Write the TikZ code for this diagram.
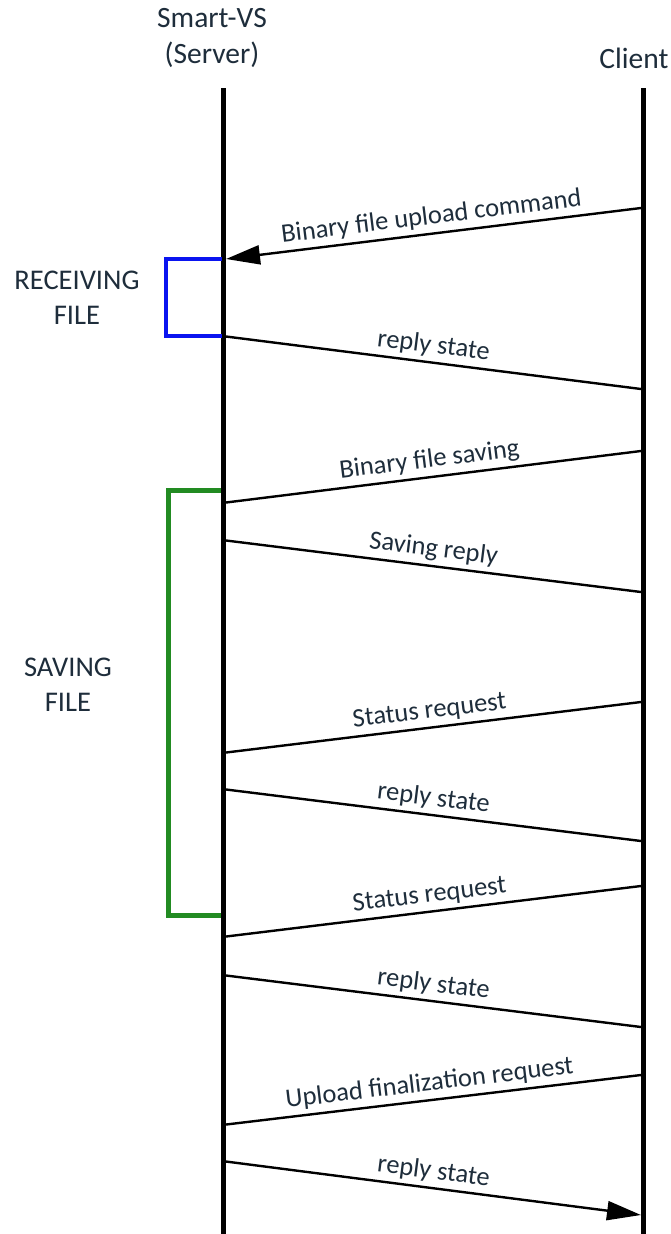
\documentclass[tikz,border=0pt]{standalone}
\usepackage{fontspec}
\setmainfont{Carlito}
\usetikzlibrary{arrows.meta}
\definecolor{txt}{HTML}{1E2D3B}
\definecolor{bracketblue}{HTML}{0A14F0}
\definecolor{bracketgreen}{HTML}{228B22}
\begin{document}
\begin{tikzpicture}[x=1pt,y=-1pt,
  title/.style={text=txt,font=\fontsize{29.5}{36}\selectfont,align=center,inner sep=0pt},
  side/.style={text=txt,font=\fontsize{28.5}{35}\selectfont,align=center,inner sep=0pt},
  lbl/.style={text=txt,font=\fontsize{26.5}{30}\selectfont,sloped,above,inner sep=4pt,pos=0.5},
  life/.style={line width=4.5pt},
  msg/.style={line width=2.4pt},
  tip/.style={-{Triangle[length=34pt,width=19pt]}}]
\useasboundingbox (0,0) rectangle (671,1234);
% lifelines
\coordinate (s0) at (223.5,88);
\coordinate (s1) at (223.5,1234);
\coordinate (c0) at (643.5,88);
\coordinate (c1) at (643.5,1234);
\draw[life] (s0) -- (s1);
\draw[life,line width=5pt] (c0) -- (c1);
% titles
\node[title] (tserver) at (212,38) {Smart-VS\\(Server)};
\node[title] (tclient) at (634,58) {Client};
% message endpoints
\coordinate (c1a) at (641,208);  \coordinate (s1a) at (226,259);
\coordinate (s2a) at (222,336);  \coordinate (c2a) at (641,389);
\coordinate (c3a) at (641,451);  \coordinate (s3a) at (222,503);
\coordinate (s4a) at (222,540);  \coordinate (c4a) at (641,592);
\coordinate (c5a) at (641,702);  \coordinate (s5a) at (222,753);
\coordinate (s6a) at (222,789);  \coordinate (c6a) at (641,841);
\coordinate (c7a) at (641,886);  \coordinate (s7a) at (222,937);
\coordinate (s8a) at (222,975);  \coordinate (c8a) at (641,1027);
\coordinate (c9a) at (641,1075); \coordinate (s9a) at (222,1125);
\coordinate (s10a) at (222,1161); \coordinate (c10a) at (641,1215);
% messages
\draw[msg,tip] (c1a) -- node[lbl] {Binary file upload command} (s1a);
\draw[msg] (s2a) -- node[lbl] {reply state} (c2a);
\draw[msg] (c3a) -- node[lbl] {Binary file saving} (s3a);
\draw[msg] (s4a) -- node[lbl] {Saving reply} (c4a);
\draw[msg] (c5a) -- node[lbl] {Status request} (s5a);
\draw[msg] (s6a) -- node[lbl] {reply state} (c6a);
\draw[msg] (c7a) -- node[lbl] {Status request} (s7a);
\draw[msg] (s8a) -- node[lbl] {reply state} (c8a);
\draw[msg] (c9a) -- node[lbl] {Upload finalization request} (s9a);
\draw[msg,tip] (s10a) -- node[lbl] {reply state} (c10a);
% brackets
\draw[bracketblue,line width=4pt] (222,259) -- (166,259) -- (166,336) -- (222,336);
\draw[bracketgreen,line width=5pt] (221,490) -- (168,490) -- (168,915) -- (221,915);
% side labels
\node[side] (recv) at (77,298) {RECEIVING\\FILE};
\node[side] (save) at (68,685) {SAVING\\FILE};
\end{tikzpicture}
\end{document}
